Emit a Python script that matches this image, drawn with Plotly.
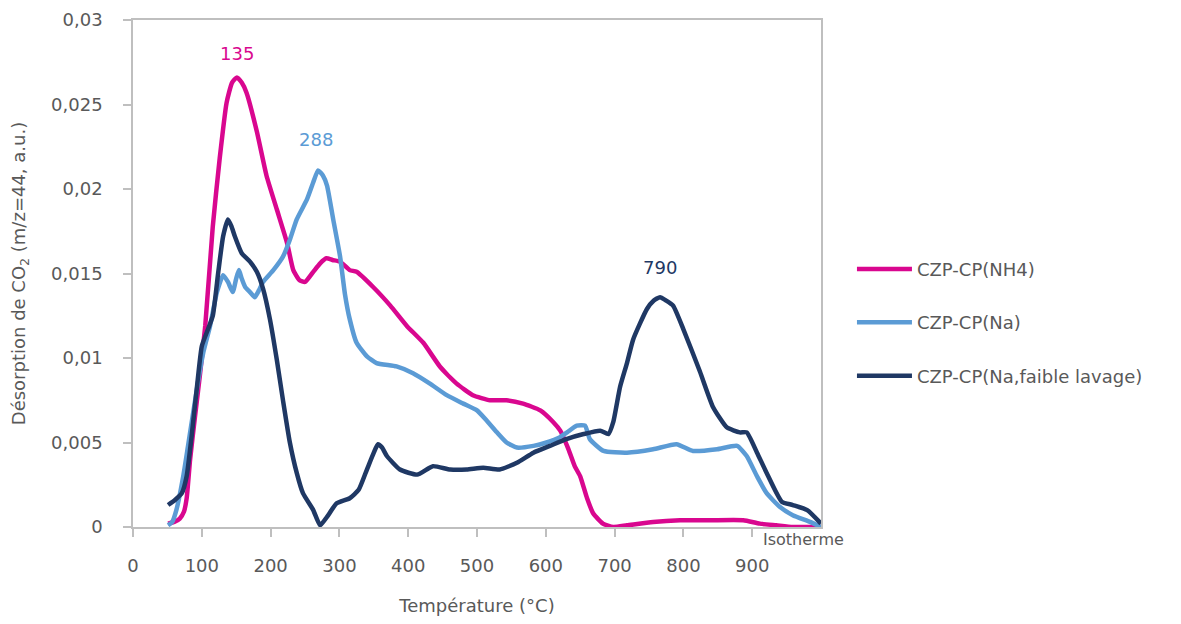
import plotly.graph_objects as go

# ---- data ----
nh4_x = [51, 60, 68, 74, 78, 83, 90, 97, 105, 116, 126, 136, 144, 151, 158, 165, 180, 194, 209, 224,
         233, 242, 250, 262, 272, 281, 290, 301, 315, 325, 349, 374, 398, 422, 446, 470, 494, 519,
         543, 567, 592, 611, 621, 632, 642, 650, 660, 669, 683, 698, 718, 756, 795, 839, 887, 911,
         935, 959, 1000]
nh4_y = [0.0002, 0.0003, 0.0005, 0.0009, 0.0017, 0.0040, 0.0065, 0.0089, 0.0119, 0.0178, 0.0218,
         0.0251, 0.0263, 0.0266, 0.0263, 0.0257, 0.0234, 0.0208, 0.0188, 0.0168, 0.0152, 0.0146,
         0.0145, 0.0151, 0.0156, 0.0159, 0.0158, 0.0157, 0.0152, 0.0151, 0.0142, 0.0131, 0.0119,
         0.0109, 0.0095, 0.0085, 0.0078, 0.0075, 0.0075, 0.0073, 0.0069, 0.0062, 0.0057, 0.0047,
         0.0036, 0.0030, 0.0017, 0.0008, 0.0002, 0.0000, 0.0001, 0.0003, 0.0004, 0.0004, 0.0004,
         0.0002, 0.0001, 0.0000, 0.0000]

na_x = [51, 57, 63, 73, 80, 88, 95, 102, 112, 122, 131, 138, 145, 150, 154, 158, 163, 170, 177, 183,
        189, 204, 218, 228, 238, 253, 262, 269, 276, 282, 291, 301, 308, 315, 325, 340, 354, 383,
        407, 431, 456, 480, 500, 514, 529, 543, 558, 582, 601, 620, 631, 645, 657, 664, 684, 718,
        756, 790, 814, 849, 878, 892, 907, 921, 940, 959, 984, 1000]
na_y = [0.0001, 0.0003, 0.0010, 0.0030, 0.0048, 0.0069, 0.0087, 0.0103, 0.0119, 0.0139, 0.0149,
        0.0145, 0.0139, 0.0147, 0.0152, 0.0147, 0.0142, 0.0139, 0.0136, 0.0140, 0.0145, 0.0152,
        0.0160, 0.0170, 0.0182, 0.0194, 0.0204, 0.0211, 0.0208, 0.0202, 0.0182, 0.0160, 0.0138,
        0.0123, 0.0109, 0.0101, 0.0097, 0.0095, 0.0091, 0.0085, 0.0078, 0.0073, 0.0069, 0.0063,
        0.0056, 0.0050, 0.0047, 0.0048, 0.0050, 0.0053, 0.0056, 0.0060, 0.0060, 0.0052, 0.0045,
        0.0044, 0.0046, 0.0049, 0.0045, 0.0046, 0.0048, 0.0042, 0.0030, 0.0020, 0.0012, 0.0007,
        0.0003, 0.0000]

naf_x = [51, 61, 71, 78, 85, 93, 100, 109, 116, 124, 131, 138, 143, 148, 158, 170, 180, 189, 199,
         209, 218, 228, 238, 247, 262, 272, 282, 296, 315, 328, 340, 350, 356, 362, 369, 388, 413,
         436, 461, 485, 509, 533, 558, 582, 606, 630, 655, 679, 691, 698, 708, 718, 727, 747, 757,
         766, 775, 785, 800, 824, 843, 863, 882, 892, 907, 921, 943, 959, 980, 1000]
naf_y = [0.0013, 0.0016, 0.0020, 0.0030, 0.0053, 0.0083, 0.0107, 0.0117, 0.0125, 0.0151, 0.0172,
         0.0182, 0.0178, 0.0172, 0.0162, 0.0157, 0.0151, 0.0141, 0.0123, 0.0099, 0.0075, 0.0050,
         0.0032, 0.0020, 0.0010, 0.0001, 0.0006, 0.0014, 0.0017, 0.0022, 0.0034, 0.0044, 0.0049,
         0.0047, 0.0042, 0.0034, 0.0031, 0.0036, 0.0034, 0.0034, 0.0035, 0.0034, 0.0038, 0.0044,
         0.0048, 0.0052, 0.0055, 0.0057, 0.0055, 0.0062, 0.0083, 0.0097, 0.0111, 0.0129, 0.0134,
         0.0136, 0.0134, 0.0131, 0.0117, 0.0092, 0.0071, 0.0059, 0.0056, 0.0056, 0.0044, 0.0032,
         0.0015, 0.0013, 0.0010, 0.0002]

series_names = ["CZP-CP(NH4)", "CZP-CP(Na)", "CZP-CP(Na,faible lavage)"]
series_colors = ["#D9078F", "#5B9BD5", "#1F3864"]

x_tickvals = [0, 100, 200, 300, 400, 500, 600, 700, 800, 900]
y_tickvals = [0, 0.005, 0.01, 0.015, 0.02, 0.025, 0.03]
y_ticktext = ["0", "0,005", "0,01", "0,015", "0,02", "0,025", "0,03"]

peak_labels = ["135", "288", "790"]
peak_pos_x = [151, 266, 766]
peak_pos_y = [0.0280, 0.02295, 0.01536]

FONT = "DejaVu Sans"
TXT = "#595959"
AX = "#BFBFBF"

fig = go.Figure()
for i, (xs, ys) in enumerate([(nh4_x, nh4_y), (na_x, na_y), (naf_x, naf_y)]):
    fig.add_trace(go.Scatter(x=xs, y=ys, mode="lines", name=series_names[i],
                             legendgroup=f"g{i}",
                             line=dict(color=series_colors[i], width=4.5,
                                       shape="spline", smoothing=0.5)))

for lab, px, py, c in zip(peak_labels, peak_pos_x, peak_pos_y, series_colors):
    fig.add_annotation(x=px, y=py, text=lab, showarrow=False,
                       font=dict(family=FONT, size=18, color=c))

fig.add_annotation(x=974, y=0, yanchor="top", yshift=-1, text="Isotherme", showarrow=False,
                   font=dict(family=FONT, size=16, color=TXT))

fig.update_layout(
    width=1173, height=616,
    margin=dict(l=125, r=360, t=12, b=97),
    paper_bgcolor="white", plot_bgcolor="white",
    font=dict(family=FONT, size=18, color=TXT),
    showlegend=True,
    legend=dict(x=1.045, xanchor="left", y=0.403, yanchor="middle",
                font=dict(family=FONT, size=18, color=TXT),
                tracegroupgap=27, itemwidth=55, bgcolor="rgba(0,0,0,0)"),
    xaxis=dict(range=[0, 1000], tickvals=x_tickvals, ticks="outside", ticklen=8,
               tickcolor=AX, tickwidth=1.5, showline=True, linecolor=AX, linewidth=1.5,
               mirror=True, showgrid=False, zeroline=False, ticklabelstandoff=14,
               automargin=False,
               tickfont=dict(family=FONT, size=18, color=TXT),
               title=dict(text="Température (°C)", standoff=24,
                          font=dict(family=FONT, size=18, color=TXT))),
    yaxis=dict(range=[0, 0.03], tickvals=y_tickvals, ticktext=y_ticktext, ticks="outside",
               ticklen=8, tickcolor=AX, tickwidth=1.5, showline=True, linecolor=AX,
               linewidth=1.5, mirror=True, showgrid=False, zeroline=False,
               ticklabelstandoff=17, automargin=False,
               tickfont=dict(family=FONT, size=18, color=TXT),
               title=dict(text="Désorption de CO<sub>2</sub> (m/z=44, a.u.)", standoff=22,
                          font=dict(family=FONT, size=18, color=TXT))),
)

fig.write_html("out.html")
